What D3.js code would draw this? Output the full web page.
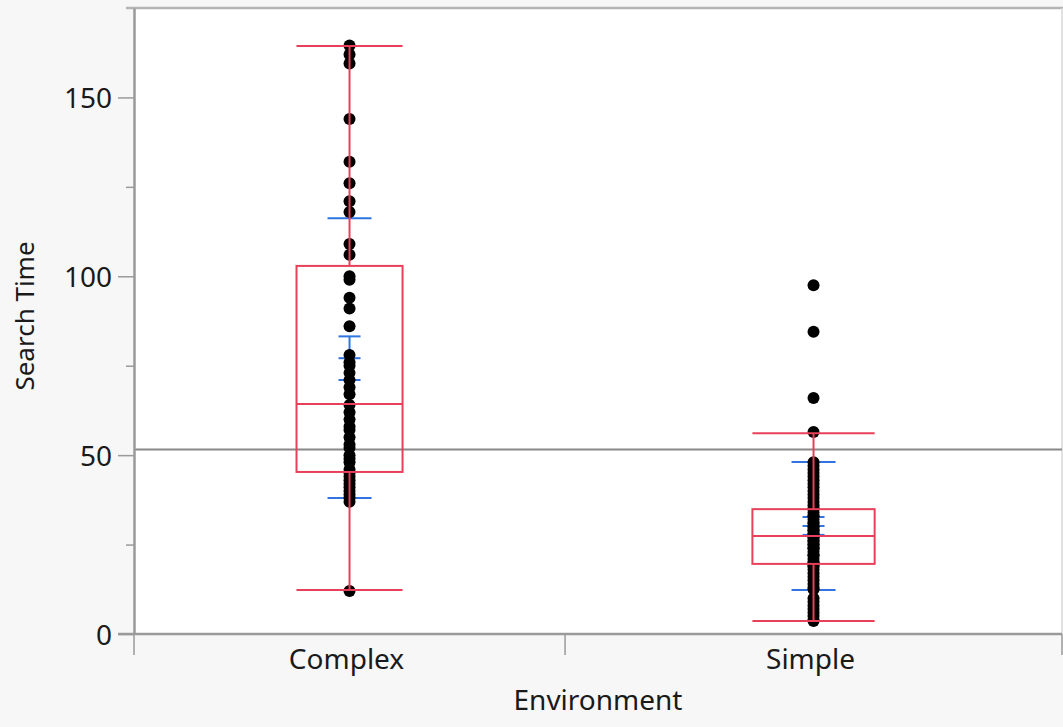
<!DOCTYPE html>
<html>
<head>
<meta charset="utf-8">
<script src="https://cdn.jsdelivr.net/npm/d3@7"></script>
<style>
  body { margin: 0; background: #f7f7f7; }
  svg { display: block; font-family: "Noto Sans", sans-serif; }
</style>
</head>
<body>
<svg id="chart" width="1063" height="727"></svg>
<script>
// Data
const categories = ['Complex', 'Simple'];
const complexTimes = [164.5, 162, 159.5, 144, 132, 126, 121, 118, 109, 106, 100, 99, 94, 91, 86,
  78, 76, 75, 73, 71, 69, 67, 64, 62, 60, 58, 57, 55, 53, 52, 50, 49, 48, 46, 45, 44, 43,
  42, 41, 40, 39, 38, 37, 12];
const simpleTimes = [97.5, 84.5, 66, 56.5, 48, 47, 46, 45, 44, 43, 42, 41, 40, 39, 38, 37, 36,
  35, 35, 34, 33, 33, 32, 31, 31, 30, 30, 29, 29, 28, 28, 27, 27, 26, 26, 25, 25, 24, 24, 23,
  22, 22, 21, 20, 20, 19, 19, 18, 17, 16, 15, 14, 13, 12.5, 10, 9, 8, 7, 6, 5, 4, 3.6];
const q1 = [45.3, 19.6];
const medians = [64.3, 27.4];
const q3 = [102.9, 34.9];
const whiskerLow = [12.3, 3.6];
const whiskerHigh = [164.4, 56.1];
const means = [77.1, 30.2];
const stdDevs = [39.1, 17.9];
const stdErrs = [6.1, 2.5];
const grandMean = 51.6;
const majorTicks = [0, 50, 100, 150];
const minorTicks = [25, 75, 125];

const svg = d3.select('#chart');
const plotLeft = 134, plotRight = 1062, plotTop = 8, plotBottom = 634;
const red = '#e8405a', blue = '#2f74e0', grey = '#9a9a9a';

// category bands are not equal width in the original
const bandEdges = [0, 0.4645, 1];
const x = d3.scaleLinear().domain([0, 1]).range([plotLeft, plotRight]);
const y = d3.scaleLinear().domain([0, 175]).range([plotBottom, plotTop]);

const bands = categories.map((c, i) => {
  const x0 = x(bandEdges[i]), x1 = x(bandEdges[i + 1]);
  return { name: c, cx: (x0 + x1) / 2, w: x1 - x0 };
});

// plot background
svg.append('rect')
  .attr('x', plotLeft).attr('y', plotTop)
  .attr('width', plotRight - plotLeft).attr('height', plotBottom - plotTop)
  .attr('fill', '#fff');

// frame
svg.append('line')
  .attr('x1', plotLeft - 8).attr('x2', plotRight + 1).attr('y1', plotTop).attr('y2', plotTop)
  .attr('stroke', '#b4b4b4').attr('stroke-width', 2.5);
svg.append('line')
  .attr('x1', plotRight).attr('x2', plotRight).attr('y1', plotTop).attr('y2', plotBottom)
  .attr('stroke', '#d8d8d8').attr('stroke-width', 1.5);

// grand mean
svg.append('line')
  .attr('x1', plotLeft).attr('x2', plotRight)
  .attr('y1', y(grandMean)).attr('y2', y(grandMean))
  .attr('stroke', '#888').attr('stroke-width', 2);

// mean, error bars, std dev lines (under the points)
const blueG = svg.append('g').attr('stroke', blue).attr('stroke-width', 2).attr('fill', 'none');
bands.forEach((b, i) => {
  const sdHalf = 22, seHalf = 11;
  [means[i] + stdDevs[i], means[i] - stdDevs[i]].forEach(v => {
    blueG.append('line').attr('x1', b.cx - sdHalf).attr('x2', b.cx + sdHalf)
      .attr('y1', y(v)).attr('y2', y(v));
  });
  [means[i] + stdErrs[i], means[i], means[i] - stdErrs[i]].forEach(v => {
    blueG.append('line').attr('x1', b.cx - seHalf).attr('x2', b.cx + seHalf)
      .attr('y1', y(v)).attr('y2', y(v));
  });
  blueG.append('line').attr('x1', b.cx).attr('x2', b.cx)
    .attr('y1', y(means[i] + stdErrs[i])).attr('y2', y(means[i] - stdErrs[i]));
});

// points
const pts = [];
complexTimes.forEach(v => pts.push({ i: 0, v }));
simpleTimes.forEach(v => pts.push({ i: 1, v }));
svg.append('g').selectAll('circle')
  .data(pts)
  .enter()
  .append('circle')
  .attr('cx', d => bands[d.i].cx)
  .attr('cy', d => y(d.v))
  .attr('r', 6)
  .attr('fill', '#000');

// box plots
const boxG = svg.append('g').attr('stroke', red).attr('stroke-width', 2).attr('fill', 'none');
bands.forEach((b, i) => {
  const bw = b.w * 0.246;
  boxG.append('rect')
    .attr('x', b.cx - bw / 2).attr('y', y(q3[i]))
    .attr('width', bw).attr('height', y(q1[i]) - y(q3[i]));
  boxG.append('line').attr('x1', b.cx - bw / 2).attr('x2', b.cx + bw / 2)
    .attr('y1', y(medians[i])).attr('y2', y(medians[i]));
  boxG.append('line').attr('x1', b.cx).attr('x2', b.cx)
    .attr('y1', y(q3[i])).attr('y2', y(whiskerHigh[i]));
  boxG.append('line').attr('x1', b.cx).attr('x2', b.cx)
    .attr('y1', y(q1[i])).attr('y2', y(whiskerLow[i]));
  [whiskerHigh[i], whiskerLow[i]].forEach(v => {
    boxG.append('line').attr('x1', b.cx - bw / 2).attr('x2', b.cx + bw / 2)
      .attr('y1', y(v)).attr('y2', y(v));
  });
});

// y axis
const yAxis = svg.append('g')
  .attr('transform', `translate(${plotLeft},0)`)
  .call(d3.axisLeft(y).tickValues(majorTicks).tickSize(16).tickSizeOuter(0).tickPadding(6));
svg.append('g')
  .attr('transform', `translate(${plotLeft},0)`)
  .call(d3.axisLeft(y).tickValues(minorTicks).tickSize(8).tickSizeOuter(0).tickFormat(''))
  .select('.domain').remove();
svg.selectAll('.tick line').attr('stroke', grey).attr('stroke-width', 1.5);
yAxis.select('.domain').attr('stroke', grey).attr('stroke-width', 2.5);
yAxis.selectAll('.tick text')
  .attr('font-size', 28).attr('font-family', '"Noto Sans", sans-serif')
  .attr('fill', '#1a1a1a').attr('dy', '0.36em');

// x axis
svg.append('line')
  .attr('x1', plotLeft - 16).attr('x2', plotRight).attr('y1', plotBottom).attr('y2', plotBottom)
  .attr('stroke', grey).attr('stroke-width', 2.5);
svg.append('g').selectAll('line')
  .data(bandEdges)
  .enter()
  .append('line')
  .attr('x1', d => x(d)).attr('x2', d => x(d))
  .attr('y1', plotBottom).attr('y2', plotBottom + 21)
  .attr('stroke', grey).attr('stroke-width', 1.5);
svg.append('g').selectAll('text')
  .data(bands)
  .enter()
  .append('text')
  .attr('x', d => d.cx - 3).attr('y', 669)
  .attr('text-anchor', 'middle')
  .attr('font-size', 28).attr('fill', '#1a1a1a')
  .text(d => d.name);

// axis titles
svg.append('text')
  .attr('x', 598).attr('y', 710)
  .attr('text-anchor', 'middle')
  .attr('font-size', 28).attr('fill', '#1a1a1a')
  .text('Environment');
svg.append('text')
  .attr('transform', 'translate(34,316) rotate(-90)')
  .attr('text-anchor', 'middle')
  .attr('font-size', 26).attr('fill', '#1a1a1a')
  .text('Search Time');
</script>
</body>
</html>
